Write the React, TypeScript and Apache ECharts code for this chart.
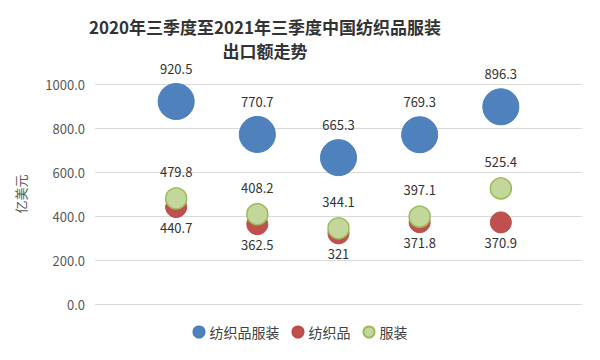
import React, { useEffect, useRef } from "react";
import * as echarts from "echarts";

const titleText = "2020年三季度至2021年三季度中国纺织品服装\n出口额走势";
const yAxisName = "亿美元";
const seriesNames = ["纺织品服装", "纺织品", "服装"];
const xPositions = [1, 2, 3, 4, 5];
const totalValues = [920.5, 770.7, 665.3, 769.3, 896.3];
const textileValues = [440.7, 362.5, 321, 371.8, 370.9];
const garmentValues = [479.8, 408.2, 344.1, 397.1, 525.4];

const FONT = "'Noto Sans CJK SC', 'Noto Sans', sans-serif";

export default function App() {
  const ref = useRef<HTMLDivElement>(null);
  useEffect(() => {
    if (!ref.current) return;
    const chart = echarts.init(ref.current, undefined, { renderer: "svg" });
    const mk = (vals: number[]) => vals.map((v, i) => [xPositions[i], v]);
    const labelBase = {
      show: true,
      color: "#333333",
      fontSize: 13,
      fontFamily: FONT,
      formatter: (p: any) => String(p.value[1]),
    };
    chart.setOption({
      animation: false,
      backgroundColor: "#ffffff",
      textStyle: { fontFamily: FONT },
      title: {
        text: titleText,
        left: 260,
        top: 9,
        textAlign: "center",
        textStyle: {
          fontSize: 17,
          fontWeight: "bold",
          color: "#333333",
          lineHeight: 24,
          fontFamily: FONT,
        },
      },
      legend: {
        data: seriesNames,
        bottom: 16,
        left: "center",
        itemWidth: 11,
        itemHeight: 11,
        itemGap: 12,
        icon: "circle",
        textStyle: { fontSize: 14, color: "#404040", fontFamily: FONT },
      },
      grid: { left: 95, right: 18, top: 84, bottom: 56, containLabel: false },
      xAxis: {
        type: "value",
        min: 0,
        max: 6,
        show: false,
      },
      yAxis: {
        type: "value",
        min: 0,
        max: 1000,
        interval: 200,
        name: yAxisName,
        nameLocation: "middle",
        nameGap: 68,
        nameTextStyle: { color: "#595959", fontSize: 13, fontFamily: FONT },
        axisLine: { show: false },
        axisTick: { show: false },
        axisLabel: {
          color: "#595959",
          fontSize: 13,
          margin: 10,
          fontFamily: FONT,
          formatter: (v: number) => v.toFixed(1),
        },
        splitLine: { lineStyle: { color: "#d9d9d9", width: 1 } },
      },
      series: [
        {
          name: seriesNames[0],
          type: "scatter",
          symbolSize: 36,
          data: mk(totalValues),
          itemStyle: { color: "#4F81BD", borderColor: "#4A7EBB", borderWidth: 1, opacity: 1 },
          label: { ...labelBase, position: "top", distance: 8 },
        },
        {
          name: seriesNames[1],
          type: "scatter",
          symbolSize: 21,
          data: mk(textileValues),
          itemStyle: { color: "#C0504D", borderColor: "#BE4B48", borderWidth: 1, opacity: 1 },
          label: { ...labelBase, position: "bottom", distance: 3 },
        },
        {
          name: seriesNames[2],
          type: "scatter",
          symbolSize: 21,
          data: mk(garmentValues),
          itemStyle: { color: "#C3D69B", borderColor: "#9BBB59", borderWidth: 1.5, opacity: 1 },
          label: { ...labelBase, position: "top", distance: 9 },
        },
      ],
    });
    return () => chart.dispose();
  }, []);
  return (
    <div
      ref={ref}
      style={{ position: "fixed", left: 0, top: 0, width: 600, height: 360, background: "#fff" }}
    />
  );
}
